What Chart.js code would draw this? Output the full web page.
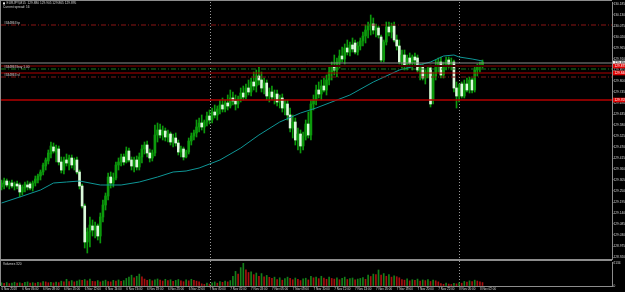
<!DOCTYPE html>
<html><head><meta charset="utf-8">
<script src="https://cdn.jsdelivr.net/npm/chart.js@4.4.0/dist/chart.umd.min.js"></script>
<style>
html,body{margin:0;padding:0;background:#000;overflow:hidden;width:625px;height:292px}
#c1{position:absolute;left:0;top:0}
#c2{position:absolute;left:0;top:261px}
</style></head><body>
<canvas id="c1" width="625" height="261"></canvas>
<canvas id="c2" width="625" height="31"></canvas>
<script>
const symbolName = "EURJPY,M15";
const spreadText = "Current spread: 16";
const volumeName = "Volumes";

const openP = [129.270,129.285,129.300,129.280,129.290,129.275,129.285,129.280,129.245,129.265,129.280,129.285,129.265,129.290,129.305,129.325,129.345,129.375,129.400,129.435,
129.470,129.445,129.460,129.395,129.355,129.405,129.390,129.415,129.380,129.405,129.345,129.275,129.175,128.995,129.045,129.075,129.055,129.075,129.025,129.120,
129.180,129.225,129.320,129.290,129.315,129.380,129.395,129.420,129.395,129.450,129.405,129.375,129.405,129.370,129.420,129.460,129.480,129.440,129.415,129.440,
129.530,129.555,129.530,129.550,129.520,129.535,129.495,129.515,129.490,129.445,129.460,129.420,129.445,129.500,129.525,129.540,129.570,129.590,129.570,129.595,
129.625,129.605,129.645,129.630,129.660,129.680,129.660,129.690,129.675,129.715,129.700,129.685,129.710,129.740,129.720,129.765,129.745,129.795,129.775,129.825,
129.805,129.765,129.790,129.725,129.745,129.720,129.735,129.695,129.715,129.665,129.685,129.630,129.565,129.595,129.505,129.535,129.475,129.525,129.585,129.530,
129.685,129.705,129.755,129.735,129.775,129.755,129.805,129.845,129.875,129.855,129.895,129.925,129.910,129.965,129.945,129.980,129.990,129.945,129.975,130.000,
130.025,130.055,130.075,130.085,130.055,130.065,130.020,129.905,129.995,130.070,130.045,130.075,130.005,129.975,129.895,129.930,129.875,129.915,129.890,129.920,
129.915,129.855,129.875,129.815,129.845,129.865,129.705,129.825,129.875,129.895,129.830,129.875,129.905,129.885,129.895,129.765,129.725,129.785,129.725,129.785,
129.755,129.805,129.755,129.855,129.870,129.880];
const highP = [129.305,129.315,129.310,129.300,129.305,129.295,129.300,129.290,129.280,129.295,129.300,129.295,129.300,129.325,129.335,129.355,129.390,129.415,129.455,129.495,
129.490,129.480,129.475,129.420,129.420,129.435,129.430,129.430,129.415,129.420,129.355,129.285,129.185,129.065,129.120,129.105,129.095,129.085,129.140,129.205,
129.240,129.340,129.345,129.340,129.395,129.415,129.435,129.435,129.470,129.465,129.420,129.420,129.425,129.440,129.480,129.495,129.500,129.460,129.455,129.580,
129.590,129.585,129.575,129.565,129.555,129.545,129.535,129.540,129.505,129.475,129.470,129.455,129.515,129.540,129.555,129.605,129.615,129.630,129.605,129.645,
129.655,129.665,129.680,129.675,129.705,129.715,129.705,129.730,129.755,129.745,129.730,129.725,129.765,129.775,129.785,129.805,129.815,129.845,129.855,129.875,
129.845,129.815,129.805,129.765,129.775,129.755,129.755,129.730,129.735,129.705,129.705,129.665,129.630,129.615,129.565,129.555,129.545,129.605,129.645,129.705,
129.730,129.780,129.795,129.805,129.815,129.830,129.875,129.895,129.930,129.915,129.955,129.970,129.985,130.005,129.995,130.015,130.005,129.995,130.015,130.045,
130.080,130.095,130.130,130.115,130.085,130.075,130.030,130.005,130.095,130.095,130.090,130.095,130.030,130.005,129.955,129.955,129.930,129.940,129.930,129.940,
129.930,129.885,129.885,129.855,129.875,129.880,129.845,129.905,129.915,129.920,129.895,129.920,129.920,129.915,129.905,129.795,129.785,129.795,129.805,129.815,
129.820,129.815,129.875,129.885,129.895,129.905];
const lowP = [129.255,129.260,129.270,129.260,129.265,129.255,129.260,129.220,129.230,129.245,129.255,129.255,129.250,129.275,129.290,129.305,129.330,129.355,129.385,129.415,
129.440,129.395,129.380,129.340,129.335,129.375,129.355,129.365,129.355,129.335,129.260,129.165,128.965,128.940,128.970,129.025,129.015,129.005,128.990,129.095,
129.155,129.205,129.265,129.270,129.305,129.355,129.375,129.380,129.390,129.395,129.355,129.345,129.355,129.355,129.390,129.435,129.420,129.395,129.400,129.425,
129.495,129.515,129.505,129.500,129.495,129.480,129.470,129.475,129.430,129.420,129.405,129.415,129.435,129.480,129.505,129.520,129.545,129.555,129.540,129.575,
129.585,129.590,129.615,129.605,129.635,129.645,129.645,129.655,129.665,129.680,129.655,129.665,129.695,129.705,129.710,129.730,129.725,129.755,129.745,129.780,
129.745,129.735,129.705,129.695,129.705,129.685,129.675,129.665,129.645,129.630,129.605,129.545,129.515,129.480,129.455,129.440,129.455,129.505,129.515,129.505,
129.655,129.680,129.715,129.705,129.745,129.730,129.780,129.805,129.830,129.820,129.865,129.895,129.885,129.930,129.925,129.945,129.935,129.930,129.955,129.975,
129.990,130.015,130.030,130.035,130.020,130.015,129.895,129.895,129.980,130.025,130.015,129.995,129.955,129.885,129.865,129.855,129.855,129.865,129.855,129.875,
129.845,129.805,129.805,129.785,129.815,129.670,129.685,129.805,129.845,129.815,129.815,129.855,129.865,129.855,129.745,129.665,129.695,129.715,129.715,129.745,
129.740,129.740,129.745,129.825,129.845,129.865];
const closeP = [129.290,129.300,129.280,129.290,129.275,129.285,129.275,129.245,129.270,129.285,129.270,129.265,129.290,129.310,129.325,129.345,129.380,129.405,129.440,129.475,
129.450,129.465,129.395,129.355,129.405,129.390,129.415,129.380,129.405,129.345,129.275,129.175,128.995,129.045,129.080,129.055,129.075,129.025,129.120,129.180,
129.225,129.320,129.290,129.315,129.380,129.395,129.420,129.395,129.450,129.405,129.375,129.405,129.370,129.420,129.460,129.480,129.440,129.415,129.440,129.530,
129.555,129.530,129.550,129.520,129.535,129.495,129.515,129.490,129.445,129.460,129.420,129.445,129.500,129.525,129.540,129.570,129.590,129.570,129.595,129.625,
129.605,129.645,129.630,129.660,129.680,129.660,129.690,129.675,129.715,129.700,129.685,129.710,129.740,129.720,129.765,129.745,129.795,129.775,129.825,129.805,
129.765,129.790,129.725,129.745,129.720,129.735,129.695,129.715,129.665,129.685,129.630,129.565,129.595,129.505,129.535,129.475,129.525,129.585,129.530,129.685,
129.705,129.755,129.735,129.775,129.755,129.805,129.845,129.875,129.855,129.895,129.925,129.910,129.965,129.945,129.980,129.960,129.945,129.975,130.000,130.025,
130.055,130.075,130.085,130.055,130.065,130.030,129.905,129.995,130.070,130.045,130.075,130.005,129.975,129.895,129.930,129.875,129.915,129.890,129.920,129.905,
129.855,129.875,129.815,129.845,129.865,129.685,129.825,129.875,129.895,129.830,129.875,129.905,129.885,129.895,129.765,129.725,129.765,129.725,129.785,129.755,
129.805,129.755,129.855,129.870,129.880,129.895];
const volumes = [300,250,320,220,280,350,260,300,240,330,380,270,310,260,350,290,420,380,300,340,290,360,310,
450,380,620,420,500,380,460,560,520,600,480,640,430,
420,500,380,460,540,420,380,520,460,560,440,500,
700,820,1000,760,900,1100,850,640,
520,600,480,560,650,540,460,620,500,580,440,520,600,480,400,560,480,620,520,450,380,
200,150,260,180,
300,380,260,420,340,460,380,500,
900,1350,1100,1700,2134,1500,1250,
1300,1050,1200,900,1150,850,980,800,
700,820,600,760,540,680,820,700,580,740,620,500,660,720,560,
900,760,820,680,900,740,620,820,
700,640,760,580,700,820,600,680,740,560,640,700,780,620,
1000,880,1100,1050,1480,
1000,1150,900,1050,820,940,860,760,
600,540,660,480,580,520,640,460,560,500,600,420,540,480,380,
220,160,260,180,140,240,200,
300,260,420,360,480,400,540,460,380,320];

const maBars = [0,7,15,20,25,30,38,42,46,53,60,66,71,76,84,92,99,107,115,121,126,134,143,153,165,170,174,176,181,185];
const maValues = [129.190,129.220,129.255,129.290,129.295,129.300,129.280,129.280,129.280,129.295,129.320,129.345,129.350,129.365,129.405,129.465,129.530,129.595,129.640,129.665,129.690,129.730,129.795,129.855,129.895,129.925,129.930,129.920,129.910,129.900];

const priceTicks = ["130.185","130.130","130.075","130.020","129.965","129.910","129.855","129.800","129.745","129.690","129.635","129.580","129.525","129.470","129.415","129.360","129.305","129.250","129.195","129.140","129.085","129.030","128.975","128.920"];
const volumeTicks = [0, 2134];
const timeLabels = ["6 Nov 2018","6 Nov 06:00","6 Nov 08:00","6 Nov 10:00","6 Nov 12:00","6 Nov 14:00","6 Nov 16:00","6 Nov 18:00","6 Nov 20:00","6 Nov 22:00","7 Nov 00:00","7 Nov 02:00","7 Nov 04:00","7 Nov 06:00","7 Nov 08:00","7 Nov 10:00","7 Nov 12:00","7 Nov 14:00","7 Nov 16:00","7 Nov 18:00","7 Nov 20:00","7 Nov 22:00","8 Nov 00:00","8 Nov 02:00"];
const dayStartBars = [80, 176];

const levelPrices = [130.080, 129.890, 129.875, 129.860, 129.840, 129.820, 129.705];
const levelNames = ["#344863 tp", "", "", "#344863 buy 1.00", "", "#344863 sl", ""];

/* ---------- styles (kept apart from data) ---------- */
const FONT = 'Liberation Sans';
const TXT = '#d4d4d4';
const GRID = '#8c8c8c';
const levelStyles = [
  {color:'#8a1414', dash:[5,2,1,2], w:1, box:null},
  {color:'#8c8c8c', dash:[], w:1, box:{bg:'#f0f0f0', fg:'#000'}},
  {color:'#4a0000', dash:[], w:2, box:{bg:'#e00000', fg:'#fff'}},
  {color:'#1f7a1f', dash:[5,2,1,2], w:1, box:null},
  {color:'#b00000', dash:[], w:1, box:{bg:'#e00000', fg:'#fff'}},
  {color:'#8a1414', dash:[5,2,1,2], w:1, box:null},
  {color:'#b40000', dash:[], w:1.5, box:{bg:'#e00000', fg:'#fff'}}
];
const BULL = '#0c9a0c', BEAR = '#dcfadc', WICK = '#0c9a0c';
const X_MIN = -0.2, X_MAX = 234.8;

const n = openP.length;
const idx = openP.map((_, i) => i);
const wickData = idx.map(i => ({x: i, y: [lowP[i], highP[i]]}));
const bodyData = idx.map(i => ({x: i, y: [openP[i], closeP[i]]}));
const bodyColors = idx.map(i => closeP[i] >= openP[i] ? BULL : BEAR);
const maData = maBars.map((b, i) => ({x: b, y: maValues[i]}));
const volData = volumes.map((v, i) => ({x: i, y: v}));
const volColors = volumes.map((v, i) => (i === 0 || v > volumes[i-1]) ? '#14801a' : '#a81010');

function fmt(v){ return (+v).toFixed(3); }
function fontStr(s){ return s + 'px "' + FONT + '"'; }

const overlay1 = {
  id: 'overlay1',
  beforeDatasetsDraw(chart){
    const {ctx, chartArea:a, scales:{x}} = chart;
    ctx.save();
    ctx.strokeStyle = '#9a9a9a'; ctx.lineWidth = 1; ctx.setLineDash([1,2]);
    dayStartBars.forEach(b => {
      const px = Math.round(x.getPixelForValue(b)) + 0.5;
      ctx.beginPath(); ctx.moveTo(px, a.top); ctx.lineTo(px, a.bottom); ctx.stroke();
    });
    ctx.restore();
  },
  afterDatasetsDraw(chart){
    const {ctx, chartArea:a, scales:{y}} = chart;
    ctx.save();
    ctx.beginPath(); ctx.rect(a.left, a.top, a.right - a.left, a.bottom - a.top); ctx.clip();
    levelPrices.forEach((p, i) => {
      const st = levelStyles[i];
      const py = y.getPixelForValue(p);
      ctx.strokeStyle = st.color; ctx.lineWidth = st.w; ctx.setLineDash(st.dash);
      ctx.beginPath(); ctx.moveTo(a.left, py); ctx.lineTo(a.right, py); ctx.stroke();
    });
    ctx.setLineDash([]);
    ctx.font = fontStr(3.2); ctx.fillStyle = TXT; ctx.textBaseline = 'middle'; ctx.textAlign = 'left';
    levelPrices.forEach((p, i) => {
      if (!levelNames[i]) return;
      const py = y.getPixelForValue(p);
      ctx.fillText(levelNames[i], a.left + 3, py - 2);
    });
    ctx.restore();
  },
  afterDraw(chart){
    const {ctx, chartArea:a, scales:{y}} = chart;
    ctx.save();
    ctx.fillStyle = GRID;
    ctx.fillRect(0, 0, a.right, 1);
    ctx.fillRect(0, 0, 1, chart.height);
    ctx.fillRect(0, a.bottom, a.right, 2);
    // price boxes on the axis
    ctx.font = fontStr(3.2); ctx.textBaseline = 'middle'; ctx.textAlign = 'left';
    levelPrices.forEach((p, i) => {
      const st = levelStyles[i];
      if (!st.box) return;
      const py = y.getPixelForValue(p);
      ctx.fillStyle = st.box.bg; ctx.fillRect(a.right + 1, py - 2.3, chart.width - a.right - 1, 4.6);
      ctx.fillStyle = st.box.fg; ctx.fillText(fmt(p), a.right + 2.5, py + 0.2);
    });
    // header
    const last = n - 1;
    ctx.fillStyle = '#e8e8e8';
    ctx.fillRect(a.left + 2, 2.4, 2, 2);
    ctx.font = fontStr(3.2); ctx.fillStyle = TXT;
    ctx.fillText(symbolName + '  ' + fmt(openP[last]) + ' ' + fmt(highP[last]) + ' ' + fmt(lowP[last]) + ' ' + fmt(closeP[last]), a.left + 5.5, 3.6);
    ctx.fillText(spreadText, a.left + 2, 7.4);
    ctx.restore();
  }
};

const overlay2 = {
  id: 'overlay2',
  beforeDatasetsDraw(chart){
    const {ctx, chartArea:a, scales:{x}} = chart;
    ctx.save();
    ctx.strokeStyle = '#9a9a9a'; ctx.lineWidth = 1; ctx.setLineDash([1,2]);
    dayStartBars.forEach(b => {
      const px = Math.round(x.getPixelForValue(b)) + 0.5;
      ctx.beginPath(); ctx.moveTo(px, 0); ctx.lineTo(px, a.bottom); ctx.stroke();
    });
    ctx.restore();
  },
  afterDraw(chart){
    const {ctx, chartArea:a} = chart;
    ctx.save();
    ctx.fillStyle = GRID;
    ctx.fillRect(0, 0, 1, a.bottom);
    ctx.font = fontStr(3.2); ctx.fillStyle = TXT; ctx.textBaseline = 'middle'; ctx.textAlign = 'left';
    ctx.fillText(volumeName + ' ' + volumes[volumes.length - 1], a.left + 2, 3.2);
    ctx.restore();
  }
};

Chart.defaults.font.family = FONT;

new Chart(document.getElementById('c1'), {
  type: 'bar',
  data: {
    datasets: [
      {type:'line', data: maData, borderColor:'#0e9696', borderWidth:1, pointRadius:0, tension:0, order:0},
      {data: bodyData, backgroundColor: bodyColors, barThickness: 2, minBarLength: 1, grouped:false, order:1},
      {data: wickData, backgroundColor: WICK, barThickness: 1, grouped:false, order:2}
    ]
  },
  options: {
    responsive:false, animation:false, devicePixelRatio:1,
    layout:{padding:{left:1, top:2, right:0, bottom:2}},
    plugins:{legend:{display:false}, tooltip:{enabled:false}},
    scales:{
      x:{type:'linear', min:X_MIN, max:X_MAX, offset:false, display:false},
      y:{position:'right', min:128.910, max:130.195,
        afterBuildTicks: s => { s.ticks = priceTicks.map(v => ({value: +v})); },
        afterFit: s => { s.width = 13; },
        ticks:{autoSkip:false, font:{size:3.2}, color:TXT, padding:0, callback: v => fmt(v)},
        grid:{display:true, drawOnChartArea:false, drawTicks:true, tickLength:1.5, color:GRID},
        border:{display:true, color:GRID, width:1}
      }
    }
  },
  plugins:[overlay1]
});

new Chart(document.getElementById('c2'), {
  type: 'bar',
  data: {
    datasets: [
      {data: volData, backgroundColor: volColors, barThickness: 1, grouped:false}
    ]
  },
  options: {
    responsive:false, animation:false, devicePixelRatio:1,
    layout:{padding:{left:1, top:1, right:0, bottom:0}},
    plugins:{legend:{display:false}, tooltip:{enabled:false}},
    scales:{
      x:{type:'linear', min:X_MIN, max:X_MAX, offset:false, position:'bottom',
        afterBuildTicks: s => { s.ticks = timeLabels.map((t, i) => ({value: i * 8})); },
        afterFit: s => { s.height = 6; },
        ticks:{autoSkip:false, maxRotation:0, minRotation:0, align:'start', font:{size:3}, color:TXT, padding:0,
          callback: (v, i) => timeLabels[i]},
        grid:{display:true, drawOnChartArea:false, drawTicks:true, tickLength:1.5, color:GRID},
        border:{display:true, color:GRID, width:1}
      },
      y:{position:'right', min:0, max:2134,
        afterBuildTicks: s => { s.ticks = volumeTicks.map(v => ({value: v})); },
        afterFit: s => { s.width = 13; },
        ticks:{autoSkip:false, font:{size:3.2}, color:TXT, padding:0, callback: v => String(v)},
        grid:{display:true, drawOnChartArea:false, drawTicks:true, tickLength:1.5, color:GRID},
        border:{display:true, color:GRID, width:1}
      }
    }
  },
  plugins:[overlay2]
});
</script>
</body></html>
